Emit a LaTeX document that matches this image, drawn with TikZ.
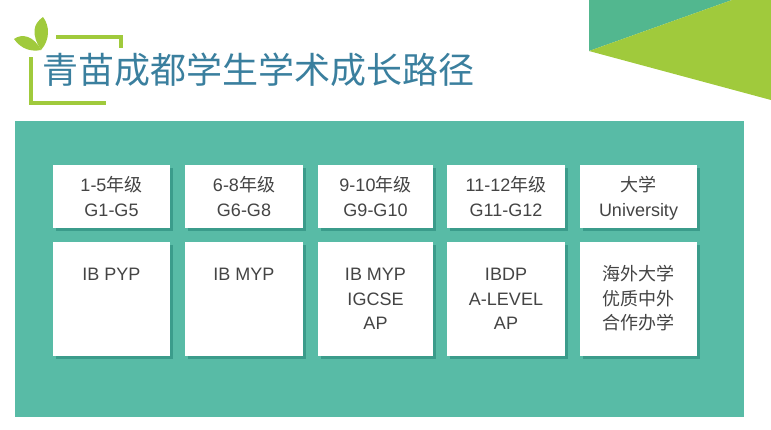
\documentclass[tikz,border=0pt]{standalone}
\usepackage{fontspec}
\setmainfont{Liberation Sans}
\newfontfamily\cjk{Noto Sans CJK SC}
\usetikzlibrary{shadows}
\definecolor{panelcol}{HTML}{58BBA6}
\definecolor{shadecol}{HTML}{3B9C8B}
\definecolor{leafcol}{HTML}{A0CA3C}
\definecolor{wedgecol}{HTML}{52B78F}
\definecolor{titlecol}{HTML}{3A7F9E}
\definecolor{inkcol}{HTML}{444444}
\lineskiplimit=-30pt
\newcommand\toprule{\vrule height 17pt width 0pt\relax}
\tikzset{
	card/.style={fill=white,inner sep=0pt,general shadow={fill=shadecol,shadow xshift=3pt,shadow yshift=-3pt}},
	cardtext/.style={inner sep=0pt,anchor=north,align=center,text=inkcol,font=\fontsize{18}{24.5}\selectfont},
	frameline/.style={draw=leafcol,line width=3.2pt}
}
\begin{document}
\begin{tikzpicture}[x=1pt,y=-1pt]
	\useasboundingbox (0,0) rectangle (771,429);
	% corner wedges
	\fill[wedgecol] (589,51) -- (589,0) -- (732,0) -- cycle;
	\fill[leafcol] (589,51) -- (732,0) -- (771,0) -- (771,100) -- cycle;
	% logo
	\draw[frameline] (56,37) -- (121,37) -- (121,48);
	\draw[frameline] (31,57) -- (31,103) -- (106,103);
	\fill[leafcol] (41,50) .. controls (31,34) and (33,24) .. (43,17) .. controls (50,26) and (50,40) .. (41,50) -- cycle;
	\fill[leafcol] (41,50) .. controls (31,52) and (21,49) .. (14,39) .. controls (22,33) and (34,36) .. (41,50) -- cycle;
	\node[inner sep=0pt,text=titlecol,font=\cjk\fontsize{36}{36}\selectfont] (title) at (258,70) {青苗成都学生学术成长路径};
	% panel
	\fill[panelcol] (15,121) rectangle (744,417);
	\foreach \i/\x/\w/\head/\body in {
		1/111.5/117/{1-5{\cjk 年级}\\G1-G5}/{IB PYP},
		2/244/118/{6-8{\cjk 年级}\\G6-G8}/{IB MYP},
		3/375.5/115/{9-10{\cjk 年级}\\G9-G10}/{IB MYP\\IGCSE\\AP},
		4/506/118/{11-12{\cjk 年级}\\G11-G12}/{IBDP\\A-LEVEL\\AP},
		5/638.5/117/{{\cjk 大学}\\University}/{{\cjk 海外大学}\\{\cjk 优质中外}\\{\cjk 合作办学}}}{
		\node[card,minimum width=\w pt,minimum height=63pt] (head\i) at (\x,196.5) {};
		\node[card,minimum width=\w pt,minimum height=114pt] (body\i) at (\x,299) {};
		\node[cardtext] (headtext\i) at (\x,174.5) {\toprule\head};
		\node[cardtext] (bodytext\i) at (\x,263.5) {\toprule\body};
	}
\end{tikzpicture}
\end{document}
